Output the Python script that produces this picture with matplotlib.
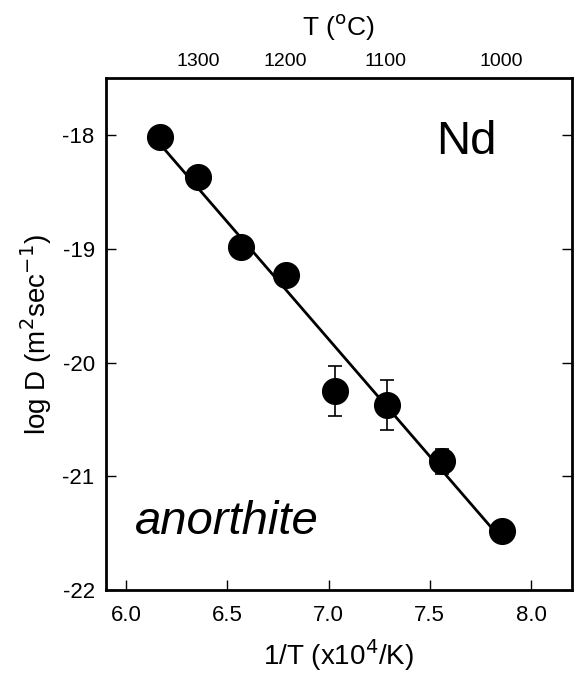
import numpy as np
import matplotlib
matplotlib.use("Agg")
import matplotlib.pyplot as plt

plt.rcParams['font.family'] = ['Liberation Sans', 'DejaVu Sans']
plt.rcParams['axes.unicode_minus'] = False

# 1/T (x10^4 / K) and log D (m2/sec)
inv_t = [6.167, 6.356, 6.567, 6.792, 7.033, 7.289, 7.560, 7.856]
log_d = [-18.02, -18.37, -18.98, -19.23, -20.25, -20.37, -20.87, -21.48]
log_d_err = [0, 0, 0, 0, 0.22, 0.22, 0.11, 0]
t_celsius = [1300, 1200, 1100, 1000]

fig = plt.figure(figsize=(5.75, 6.75), dpi=100)
ax = fig.add_axes([0.184, 0.126, 0.81, 0.758])

# fitted line
k, b = np.polyfit(inv_t, log_d, 1)
xs = np.array([inv_t[0], inv_t[-1]])
ax.plot(xs, k * xs + b, color='black', lw=2, zorder=2)

err = np.array(log_d_err)
mask = err > 0
ax.errorbar(np.array(inv_t)[mask], np.array(log_d)[mask], yerr=err[mask],
            fmt='none', ecolor='black', elinewidth=1.2, capsize=5, capthick=1.2, zorder=3)
ax.plot(inv_t, log_d, 'o', color='black', markersize=18.5, zorder=4)

ax.set_xlim(5.9, 8.2)
ax.set_ylim(-22, -17.5)
ax.set_xticks([6.0, 6.5, 7.0, 7.5, 8.0])
ax.set_xticklabels(['6.0', '6.5', '7.0', '7.5', '8.0'])
ax.set_yticks([-22, -21, -20, -19, -18])
ax.tick_params(axis='both', direction='in', length=7, width=1, labelsize=16, pad=8)
ax.tick_params(axis='x', pad=11)
ax.tick_params(axis='y', right=True)
for s in ax.spines.values():
    s.set_linewidth(2)

ax.set_xlabel('1/T (x10$^{4}$/K)', fontsize=20, labelpad=8)
ax.set_ylabel('log D (m$^{2}$sec$^{-1}$)', fontsize=20, labelpad=6)

# top axis: temperature in C
top = ax.twiny()
top.set_xlim(ax.get_xlim())
top.set_xticks([1e4 / (t + 273.15) for t in t_celsius])
top.set_xticklabels([str(t) for t in t_celsius])
top.tick_params(axis='x', length=0, labelsize=14, pad=6)
top.set_xlabel('T ($^{\\rm o}$C)', fontsize=19, labelpad=13)
for s in top.spines.values():
    s.set_visible(False)

ax.text(0.773, 0.876, 'Nd', transform=ax.transAxes, fontsize=34, ha='center', va='center')
ax.text(0.063, 0.133, 'anorthite', transform=ax.transAxes, fontsize=34, style='italic',
        ha='left', va='center')

fig.savefig('out.png', dpi=100)
